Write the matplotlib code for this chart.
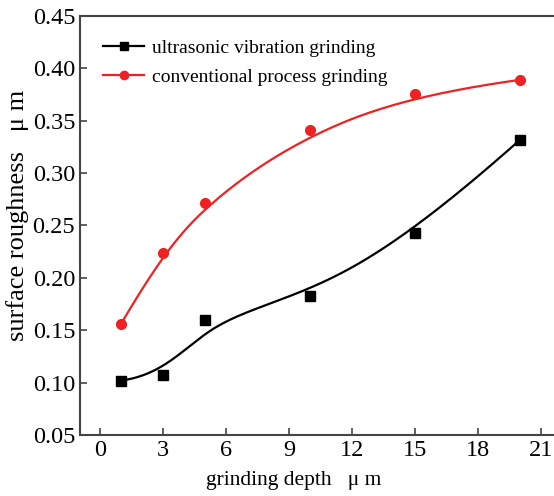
import numpy as np
import matplotlib.pyplot as plt

plt.rcParams.update({
    'font.family': 'Liberation Serif',
    'xtick.direction': 'in', 'ytick.direction': 'in',
    'axes.linewidth': 1.5, 'axes.edgecolor': '#444444',
})

depth = [1, 3, 5, 10, 15, 20]
ultrasonic = [0.102, 0.107, 0.160, 0.183, 0.243, 0.332]
conventional = [0.156, 0.224, 0.271, 0.341, 0.375, 0.389]
xticks = [0, 3, 6, 9, 12, 15, 18, 21]
yticks = [0.05, 0.10, 0.15, 0.20, 0.25, 0.30, 0.35, 0.40, 0.45]


def bspline(x, y, deg=3, n=400):
    # clamped B-spline using the data points as control points (Origin style)
    pts = np.column_stack([x, y]).astype(float)
    k = len(pts)
    knots = np.concatenate([np.zeros(deg), np.linspace(0, 1, k - deg + 1), np.ones(deg)])
    ts = np.linspace(0, 1, n)
    out = np.zeros((n, 2))
    for j, t in enumerate(ts):
        # Cox-de Boor basis
        N = np.zeros(len(knots) - 1)
        for i in range(len(knots) - 1):
            if knots[i] <= t < knots[i + 1] or (t == 1 and knots[i] < t <= knots[i + 1]):
                N[i] = 1.0
        for d in range(1, deg + 1):
            Nn = np.zeros(len(knots) - 1 - d)
            for i in range(len(Nn)):
                a = 0.0
                if knots[i + d] > knots[i]:
                    a += (t - knots[i]) / (knots[i + d] - knots[i]) * N[i]
                if knots[i + d + 1] > knots[i + 1]:
                    a += (knots[i + d + 1] - t) / (knots[i + d + 1] - knots[i + 1]) * N[i + 1]
                Nn[i] = a
            N = Nn
        out[j] = N @ pts
    return out[:, 0], out[:, 1]


fig = plt.figure(figsize=(5.54, 4.96), dpi=100)
ax = fig.add_axes([0.1444, 0.123, 0.8556, 0.845])

for vals, color, marker, ms, label in [
    (ultrasonic, 'black', 's', 6.5, 'ultrasonic vibration grinding'),
    (conventional, '#ee2222', 'o', 7, 'conventional process grinding'),
]:
    xs, ys = bspline(depth, vals)
    ax.plot(xs, ys, color=color, lw=1.6)
    ax.plot(depth, vals, ls='none', marker=marker, ms=ms, color=color)
    ax.plot([], [], color=color, lw=1.6, marker=marker, ms=ms - 1, label=label)

ax.set_xlim(-0.95, 21.6)
ax.set_ylim(0.05, 0.45)
ax.set_xticks(xticks)
ax.set_yticks(yticks)
ax.set_yticklabels([f'{v:.2f}' for v in yticks])
ax.tick_params(labelsize=17.5, length=5, width=1.2, color='#444444')
ax.spines['right'].set_visible(False)

ax.set_xlabel('grinding depth   μ m', fontsize=15.5)
ax.xaxis.set_label_coords(0.451, -0.085)
ax.set_ylabel('surface roughness   μ m', fontsize=19)
ax.yaxis.set_label_coords(-0.108, 0.523)
ax.legend(loc='upper left', frameon=False, fontsize=14, handlelength=2.1,
          bbox_to_anchor=(0.012, 0.985), labelspacing=0.55, handletextpad=0.4)

fig.savefig('out.png', dpi=100)
